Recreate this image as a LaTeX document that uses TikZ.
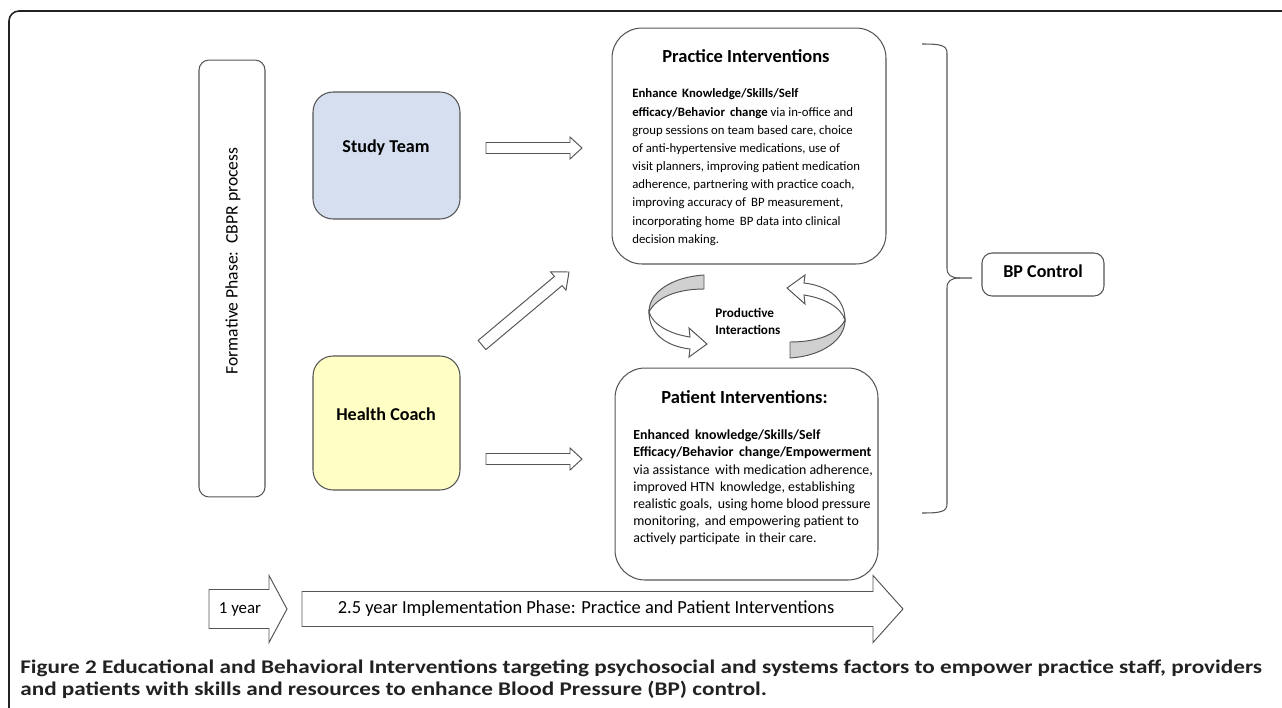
\documentclass[tikz,border=0pt]{standalone}
\usepackage{fontspec}
\setmainfont{Carlito}
\newfontfamily\capfont[FakeStretch=1.2]{Carlito}
\usetikzlibrary{calc,positioning}

\definecolor{teamblue}{HTML}{D5DFEF}
\definecolor{coachyellow}{HTML}{FFFFC5}
\definecolor{edgegray}{HTML}{555555}
\definecolor{ribbongray}{HTML}{D0D0D0}
\definecolor{captext}{HTML}{222222}

\tikzset{
  box/.style={draw=edgegray, line width=0.6pt, rectangle, inner sep=0pt},
  blockarrow/.style={draw=edgegray, line width=0.55pt, fill=white, line join=miter},
  ribbon/.style={draw=edgegray, line width=0.55pt},
  boxtitle/.style={font=\fontsize{10.5}{12}\selectfont\bfseries, inner sep=0pt},
  boxbody/.style={font=\fontsize{7.27}{10.35}\selectfont, align=left, inner sep=0pt, anchor=north west},
  label/.style={font=\fontsize{10.3}{12}\selectfont\bfseries, inner sep=0pt},
  phase/.style={font=\fontsize{10.5}{12}\selectfont, inner sep=0pt}
}

% block arrow: tail, tip, shaft half width, head half width, head length
\newcommand{\blockarr}[5]{%
  \coordinate (ba-h) at ($(#2)!#5!(#1)$);
  \draw[blockarrow] ($(#1)!#3!90:(#2)$) -- ($(ba-h)!#3!90:(#2)$) -- ($(ba-h)!#4!90:(#2)$)
    -- (#2) -- ($(ba-h)!#4!-90:(#2)$) -- ($(ba-h)!#3!-90:(#2)$) -- ($(#1)!#3!-90:(#2)$) -- cycle;}

\begin{document}
\begin{tikzpicture}[x=0.02cm, y=-0.02cm]
\useasboundingbox (0,0) rectangle (1282,707);

%outer frame
\draw[captext, line width=0.9pt, rounded corners=0.2cm] (9,708) -- (9,11) -- (1290,11);

%formative phase
\node[box, rounded corners=0.2cm, minimum width=1.32cm, minimum height=8.74cm] (form) at (232,278.5) {};
\node[phase, font=\fontsize{10}{12}\selectfont, rotate=90] (formtxt) at (233,261) {Formative Phase:\ \ CBPR process};

%study team and health coach
\node[box, fill=teamblue, rounded corners=0.4cm, minimum width=2.94cm, minimum height=2.54cm] (study) at (386.5,155.5) {};
\node[label] (studytxt) at (386,148) {Study Team};
\node[box, fill=coachyellow, rounded corners=0.4cm, minimum width=2.94cm, minimum height=2.68cm] (coach) at (386.5,423) {};
\node[label] (coachtxt) at (386,414) {Health Coach};

%practice interventions
\node[box, rounded corners=0.6cm, minimum width=5.48cm, minimum height=4.72cm] (prac) at (749,146) {};
\node[boxtitle] (practitle) at ($(prac.north)+(-3,29)$) {Practice Interventions};
\node[boxbody] (pracbody) at (632,88.5) {\textbf{Enhance\ \,Knowledge/Skills/Self}\\
\textbf{efficacy/Behavior\ \,change} via in-office and\\
group sessions on team based care, choice\\
of anti-hypertensive medications, use of\\
visit planners, improving patient medication\\
adherence, partnering with practice coach,\\
improving accuracy of\ \,BP measurement,\\
incorporating home\ \,BP data into clinical\\
decision making.};

%patient interventions
\node[box, rounded corners=0.6cm, minimum width=5.26cm, minimum height=4.24cm] (pat) at (746.5,474) {};
\node[boxtitle] (pattitle) at ($(pat.north)+(-2,30)$) {Patient Interventions:};
\node[boxbody, font=\fontsize{7.9}{9.8}\selectfont] (patbody) at (633,429.5) {\textbf{Enhanced\ \,knowledge/Skills/Self}\\
\textbf{Efficacy/Behavior\ \,change/Empowerment}\\
via assistance\ \,with medication adherence,\\
improved HTN\ \,knowledge, establishing\\
realistic goals,\ \,using home blood pressure\\
monitoring,\ \,and empowering patient to\\
actively participate\ \,in their care.};

%productive interactions
\node[font=\fontsize{7.5}{9.7}\selectfont\bfseries, align=left, inner sep=0pt, anchor=west] (prod) at (715,321.5) {Productive\\Interactions};
\begin{scope}
\filldraw[ribbon, fill=ribbongray] (704,275) .. controls (672,277) and (649,292) .. (649,312)
  .. controls (656,298) and (676,289) .. (704,289) -- cycle;
\filldraw[ribbon, fill=white] (649,312) .. controls (653,325) and (670,334) .. (690,337) -- (689,328) -- (707,344)
  -- (689,357) -- (690,349) .. controls (664,346) and (649,332) .. (649,312) -- cycle;
\end{scope}
\begin{scope}[rotate around={180:(747,316)}]
\filldraw[ribbon, fill=ribbongray] (704,274) .. controls (672,276) and (649,292) .. (649,312)
  .. controls (656,298) and (676,290) .. (704,290) -- cycle;
\filldraw[ribbon, fill=white] (649,312) .. controls (653,325) and (670,334) .. (690,337) -- (689,328) -- (707,344)
  -- (689,357) -- (690,349) .. controls (664,346) and (649,332) .. (649,312) -- cycle;
\end{scope}

%arrows into the interventions
\coordinate (st-tail) at (486,148);
\coordinate (st-tip) at (582,148);
\coordinate (hc-tail) at (486,459);
\coordinate (hc-tip) at (582,459);
\coordinate (dg-tail) at (482,345);
\coordinate (dg-tip) at (569,272);
\blockarr{st-tail}{st-tip}{0.11cm}{0.22cm}{0.24cm}
\blockarr{hc-tail}{hc-tip}{0.11cm}{0.22cm}{0.24cm}
\blockarr{dg-tail}{dg-tip}{0.12cm}{0.24cm}{0.28cm}

%brace and BP control
\node[box, rounded corners=0.2cm, minimum width=2.44cm, minimum height=0.86cm] (bp) at (1043,274.5) {};
\node[label] (bptxt) at (1043,271) {BP Control};
\coordinate (brtip) at (972,278);
\draw[edgegray, line width=0.6pt] (922,44) .. controls (940,44) and (947,45) .. (947,53) -- (947,268)
  .. controls (947,275) and (951,278) .. (960,278) -- (brtip);
\draw[edgegray, line width=0.6pt] (960,278) .. controls (951,278) and (947,281) .. (947,288) -- (947,504)
  .. controls (947,512) and (940,513) .. (922,513);

%time line
\coordinate (yr-tail) at (209,609);
\coordinate (yr-tip) at (287,609);
\coordinate (imp-tail) at (302,609);
\coordinate (imp-tip) at (903,609);
\blockarr{yr-tail}{yr-tip}{0.39cm}{0.67cm}{0.36cm}
\blockarr{imp-tail}{imp-tip}{0.35cm}{0.67cm}{0.6cm}
\node[phase, font=\fontsize{9.6}{12}\selectfont] (yrtxt) at (240,609) {1 year};
\node[phase] (imptxt) at (586,609) {2.5 year Implementation Phase: Practice and Patient Interventions};

%caption
\node[font=\capfont\fontsize{11}{12.5}\selectfont\bfseries, text=captext, align=left, inner sep=0pt, anchor=north west] (cap) at (20,660)
{Figure 2 Educational and Behavioral Interventions targeting psychosocial and systems factors to empower practice staff, providers\\
and patients with skills and resources to enhance Blood Pressure (BP) control.};
\end{tikzpicture}
\end{document}
